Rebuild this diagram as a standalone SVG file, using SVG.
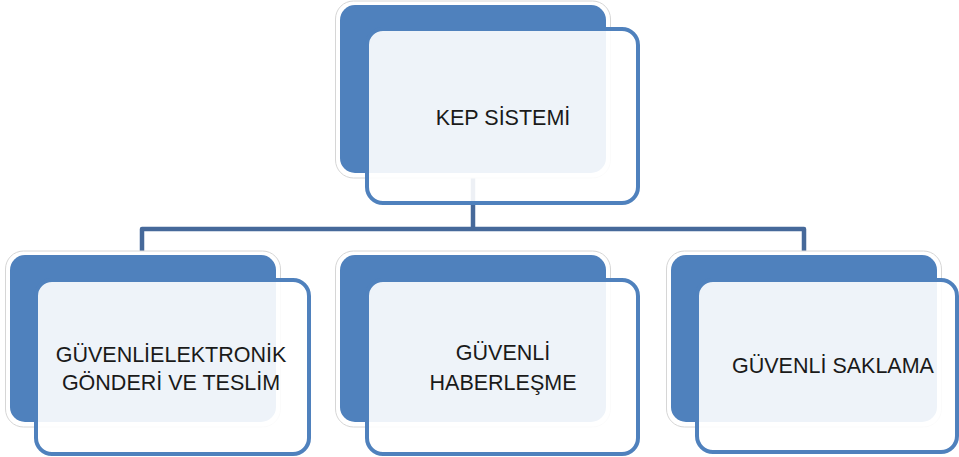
<svg xmlns="http://www.w3.org/2000/svg" width="959" height="457" viewBox="0 0 959 457">
<style>
.halo{fill:#ffffff;stroke:#d6d6d6;stroke-width:1}
.back{fill:#4F81BD}
.front{fill:#ffffff;fill-opacity:0.9;stroke:#4F81BD;stroke-width:4}
.conn{fill:none;stroke:#46699A;stroke-width:4.5;stroke-linejoin:round}
text{font-family:"Liberation Sans",Arial,sans-serif;font-size:21.5px;fill:#1a1a1a;text-anchor:middle}
</style>
<rect width="959" height="457" fill="#ffffff"/>
<g id="connectors">
<path class="conn" d="M473 173 V229"/>
<path class="conn" d="M142 253 V229 H804 V253"/>
</g>
<g id="node-kep">
<rect class="halo" x="335.5" y="1" width="275" height="177" rx="18"/>
<rect class="back" x="340" y="5" width="266" height="168" rx="15"/>
<rect class="front" x="367" y="29" width="271" height="174" rx="16"/>
<text x="503" y="125">KEP SİSTEMİ</text>
</g>
<g id="node-gonderi">
<rect class="halo" x="5.5" y="251" width="275" height="176" rx="18"/>
<rect class="back" x="10" y="255" width="266" height="167" rx="15"/>
<rect class="front" x="36" y="280" width="273" height="174" rx="16"/>
<text x="171" y="362">GÜVENLİELEKTRONİK</text>
<text x="171" y="390">GÖNDERİ VE TESLİM</text>
</g>
<g id="node-haberlesme">
<rect class="halo" x="335.5" y="251" width="275" height="176" rx="18"/>
<rect class="back" x="340" y="255" width="266" height="167" rx="15"/>
<rect class="front" x="367" y="280" width="271" height="174" rx="16"/>
<text x="503" y="360">GÜVENLİ</text>
<text x="503" y="390">HABERLEŞME</text>
</g>
<g id="node-saklama">
<rect class="halo" x="666.5" y="251" width="275" height="176" rx="18"/>
<rect class="back" x="671" y="255" width="266" height="167" rx="15"/>
<rect class="front" x="697" y="280" width="260" height="172" rx="16"/>
<text x="833" y="373">GÜVENLİ SAKLAMA</text>
</g>
</svg>
